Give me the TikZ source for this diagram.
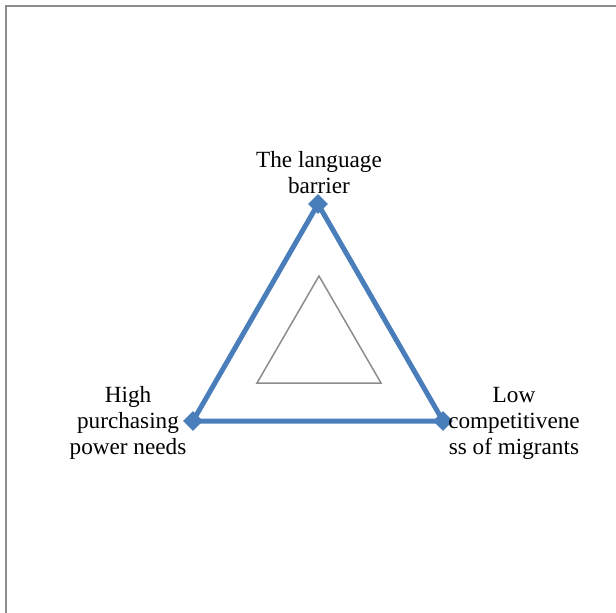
\documentclass[tikz,border=0pt]{standalone}
\usepackage{fontspec}
\setmainfont{Liberation Serif}
\usetikzlibrary{shapes.geometric}
\definecolor{serblue}{RGB}{74,126,187}
\definecolor{framegray}{RGB}{140,140,140}
\begin{document}
\begin{tikzpicture}[x=1pt,y=-1pt,
  marker/.style={diamond,fill=serblue,inner sep=0pt,minimum width=20pt,minimum height=20pt},
  lbl/.style={align=center,font=\fontsize{23.2}{26}\selectfont,inner sep=0pt},
  outer/.style={draw=serblue,line width=5pt,line join=miter},
  inner/.style={draw=framegray,line width=1.5pt,line join=miter}]
\useasboundingbox (0,0) rectangle (616,613);
\coordinate (fA) at (5.5,613);
\coordinate (fB) at (5.5,5.5);
\coordinate (fC) at (616,5.5);
\draw[framegray,line width=2pt] (fA) -- (fB) -- (fC);
% outer triangle
\coordinate (T) at (318,204);
\coordinate (L) at (193,421);
\coordinate (R) at (443,421);
\draw[outer] (T) -- (R) -- (L) -- cycle;
\node[marker] (mT) at (T) {};
\node[marker] (mL) at (L) {};
\node[marker] (mR) at (R) {};
% inner triangle
\coordinate (it) at (319,276);
\coordinate (il) at (257,383);
\coordinate (ir) at (381,383);
\draw[inner] (it) -- (ir) -- (il) -- cycle;
% labels
\node[lbl] (tT) at (319,173) {The language\\barrier};
\node[lbl] (tL) at (128,423) {High\\purchasing\\power needs};
\node[lbl] (tR) at (514,423) {Low\\competitivene\\ss of migrants};
\end{tikzpicture}
\end{document}
